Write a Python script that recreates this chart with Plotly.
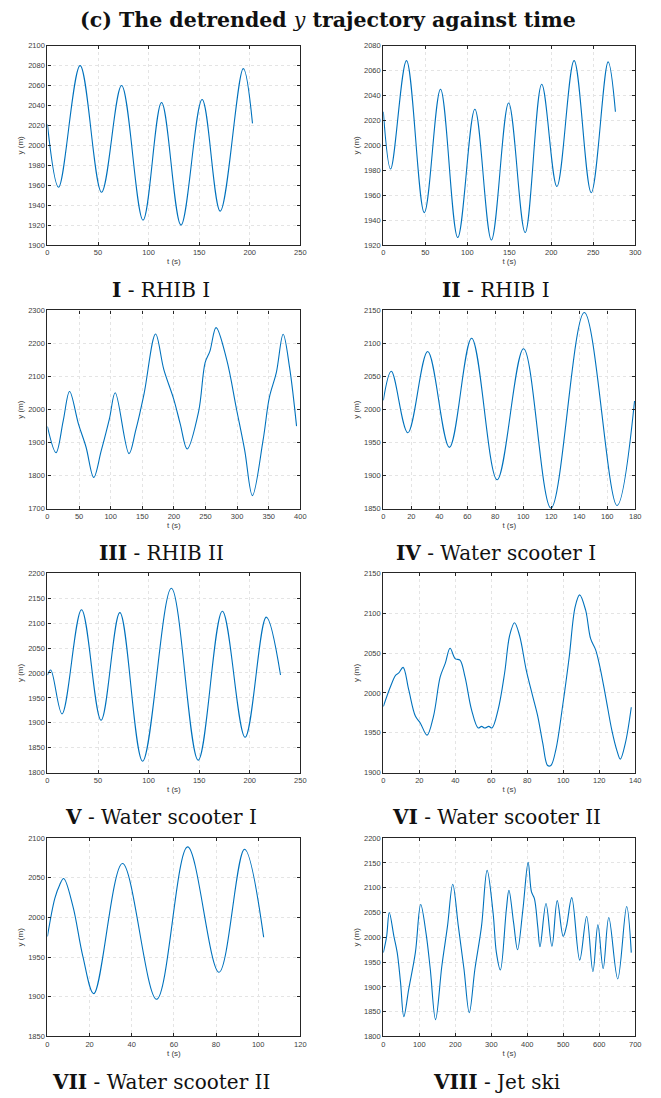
import plotly.graph_objects as go

# ---------------- data ----------------
t1 = [0, 11, 32.3, 53.5, 73.3, 94.5, 112.8, 132, 152.9, 170.8, 193.6, 202.7]
y1 = [2021, 1958, 2080, 1953, 2060, 1925, 2043, 1920, 2046, 1934, 2077, 2022]

t2 = [0, 8.7, 27.6, 48.8, 68.1, 88.6, 109, 128.7, 149.2, 168.9, 188.6, 206.7, 227.2, 247.6, 267.7, 276.4]
y2 = [2027, 1981, 2068, 1946, 2045, 1926, 2029, 1924, 2034, 1930, 2049, 1967, 2068, 1962, 2067, 2027]

t3 = [0, 13.6, 25, 35, 49, 61, 73.2, 85, 98, 107.2, 129, 139.6, 152.7, 171, 184, 199.7, 210, 221,
      239, 249.4, 257, 266.7, 283.4, 299, 312, 324.2, 341, 351, 362, 372.8, 383, 394]
y3 = [1949, 1870, 1967, 2055, 1957, 1887, 1795, 1875, 1972, 2051, 1867, 1937, 2047, 2229, 2122, 2032, 1957, 1881,
      1993, 2142, 2177, 2248, 2152, 2002, 1877, 1740, 1907, 2037, 2112, 2228, 2127, 1950]

t4 = [0, 5.7, 17.5, 31.7, 47.2, 63.1, 81.3, 100.2, 119.8, 143.6, 167, 179.5]
y4 = [2014, 2058, 1965, 2088, 1943, 2108, 1894, 2092, 1851, 2147, 1855, 2013]

t5 = [0, 3.3, 14.4, 33.7, 53, 71.6, 94.1, 122.5, 149, 172.9, 195.4, 216.3, 230.4]
y5 = [1996, 2006, 1918, 2127, 1905, 2121, 1823, 2170, 1825, 2124, 1871, 2112, 1996]

t6 = [0, 4, 6.8, 8.6, 11, 14.1, 17.8, 20.6, 24.3, 27.9, 31.6, 34.4, 37.1, 39.9, 42.6, 45.4, 49,
      52.7, 54.6, 56.4, 58.6, 60.4, 63.8, 67.4, 70.2, 72.9, 75.7, 79.4, 83, 85.8, 88.6, 91.3, 93.1,
      95.9, 99.6, 103.3, 106.6, 109.1, 112.4, 115.2, 118, 120.7, 123.5, 127.1, 129.9, 131.7, 134.5, 137.8]
y6 = [1983, 2008, 2022, 2025, 2032, 2004, 1971, 1962, 1947, 1971, 2020, 2037, 2056, 2043, 2041, 2020, 1979,
      1956, 1958, 1956, 1958, 1956, 1979, 2025, 2072, 2088, 2072, 2029, 1996, 1971, 1937, 1909, 1909,
      1929, 1983, 2045, 2108, 2123, 2104, 2068, 2054, 2029, 1996, 1952, 1927, 1917, 1937, 1982]

t7 = [0, 3.5, 5.8, 7.7, 12.1, 16.8, 22, 35.6, 51.8, 66.5, 81.4, 93.5, 102.6]
y7 = [1976, 2024, 2041, 2049, 2014, 1951, 1904, 2068, 1897, 2089, 1931, 2086, 1975]

t8 = [0, 9.2, 16.5, 29.4, 38.6, 47.8, 57, 70.7, 89, 103.8, 118.5, 130.4, 145.1, 162.6, 178.2, 192.9,
      208.5, 224.1, 238.8, 254.5, 272.8, 288.4, 305, 314.2, 325.2, 341.7, 349, 362, 373, 387.7, 402.4,
      411.5, 419.8, 429, 435.4, 452, 468.5, 483.2, 499.7, 508.9, 523.6, 545.7, 565, 582.4, 596.2,
      610.9, 626.5, 651.3, 676.1, 689]
y8 = [1969, 2002, 2050, 2002, 1969, 1909, 1840, 1896, 1969, 2066, 2009, 1936, 1834, 1942, 2022, 2107,
      2022, 1936, 1848, 1936, 2022, 2135, 2049, 1969, 1934, 2055, 2095, 2029, 1975, 2055, 2151,
      2092, 2078, 2022, 1981, 2068, 1982, 2074, 2002, 2022, 2080, 1954, 2042, 1931, 2025,
      1937, 2040, 1916, 2062, 1969]

series_t = [t1, t2, t3, t4, t5, t6, t7, t8]
series_y = [y1, y2, y3, y4, y5, y6, y7, y8]

x_ranges = [[0, 250], [0, 300], [0, 400], [0, 180], [0, 250], [0, 140], [0, 120], [0, 700]]
x_dticks = [50, 50, 50, 20, 50, 20, 20, 100]
y_ranges = [[1900, 2100], [1920, 2080], [1700, 2300], [1850, 2150], [1800, 2200], [1900, 2150], [1850, 2100], [1800, 2200]]
y_dticks = [20, 20, 100, 50, 50, 50, 50, 50]

panel_bold = ["I", "II", "III", "IV", "V", "VI", "VII", "VIII"]
panel_names = ["RHIB I", "RHIB I", "RHIB II", "Water scooter I", "Water scooter I",
               "Water scooter II", "Water scooter II", "Jet ski"]

title_text = "<b>(c) The detrended </b><i>y</i><b> trajectory against time</b>"

# ---------------- layout helpers ----------------
W, H = 661, 1098
col_px = [(46, 302), (386, 641)]
row_px = [(42, 243), (309, 509), (574, 775), (841, 1041)]
sub_px = [288, 554, 820, 1087]

LINE_COLOR = "#0072BD"
AX_COLOR = "#262626"
TICK_FONT = dict(family="Liberation Sans, Arial, sans-serif", size=7.5, color="#404040")
LABEL_FONT = dict(family="Liberation Sans, Arial, sans-serif", size=8, color="#404040")

fig = go.Figure()
layout = dict(
    width=W, height=H,
    margin=dict(l=0, r=0, t=0, b=0),
    paper_bgcolor="white", plot_bgcolor="white",
    showlegend=False,
    annotations=[],
)

for i in range(8):
    r, c = divmod(i, 2)
    xl, xr = col_px[c]
    yt, yb = row_px[r]
    xa = "xaxis" if i == 0 else f"xaxis{i+1}"
    ya = "yaxis" if i == 0 else f"yaxis{i+1}"
    xref = "x" if i == 0 else f"x{i+1}"
    yref = "y" if i == 0 else f"y{i+1}"

    fig.add_trace(go.Scatter(
        x=series_t[i], y=series_y[i], mode="lines",
        line=dict(color=LINE_COLOR, width=1.1, shape="spline", smoothing=1.0),
        xaxis=xref, yaxis=yref, hoverinfo="skip",
    ))

    common = dict(
        showline=True, linecolor=AX_COLOR, linewidth=1.2, mirror="ticks",
        ticks="inside", ticklen=3, tickwidth=0.8, tickcolor=AX_COLOR,
        showgrid=True, gridcolor="#e4e4e4", griddash="dot", gridwidth=0.7,
        zeroline=False, tickfont=TICK_FONT, fixedrange=True,
    )
    layout[xa] = dict(
        common, domain=[xl / W, xr / W], anchor=yref,
        range=x_ranges[i], tick0=0, dtick=x_dticks[i],
        title=dict(text="t (s)", font=LABEL_FONT, standoff=2),
    )
    layout[ya] = dict(
        common, domain=[1 - yb / H, 1 - yt / H], anchor=xref,
        range=y_ranges[i], tick0=y_ranges[i][0], dtick=y_dticks[i],
        title=dict(text="y (m)", font=LABEL_FONT, standoff=3),
    )

    cx = (xl + xr) / 2 - 13
    layout["annotations"].append(dict(
        text=f"<b>{panel_bold[i]}</b> - {panel_names[i]}",
        x=cx / W, y=1 - sub_px[r] / H, xref="paper", yref="paper",
        xanchor="center", yanchor="middle", showarrow=False,
        font=dict(family="DejaVu Serif, serif", size=20, color="#111111"),
    ))

layout["annotations"].append(dict(
    text=title_text, x=330 / W, y=1 - 16 / H, xref="paper", yref="paper",
    xanchor="center", yanchor="middle", showarrow=False,
    font=dict(family="DejaVu Serif, serif", size=20.5, color="#111111"),
))

fig.update_layout(**layout)
fig.write_html("out.html")
